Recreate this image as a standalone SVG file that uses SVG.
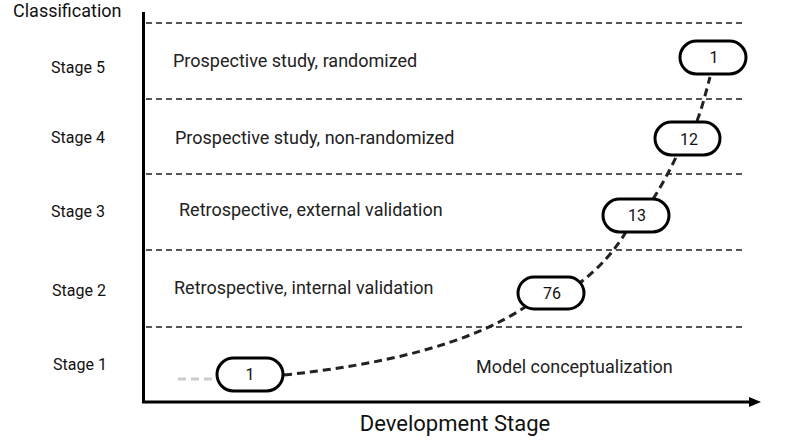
<svg xmlns="http://www.w3.org/2000/svg" width="800" height="444" viewBox="0 0 800 444">
<defs>
<marker id="arr" markerWidth="12" markerHeight="10" refX="1" refY="5" orient="auto" markerUnits="userSpaceOnUse"><path d="M0,0 L12,5 L0,10 Z" fill="#000"/></marker>
<style>
text{font-family:Roboto,"Liberation Sans",sans-serif;fill:#111}
.stage{font-size:16px}
.row{font-size:18px;fill:#222}
.grid{stroke:#555;stroke-width:2;stroke-dasharray:6 4}
.pill{fill:#fff;stroke:#000;stroke-width:3}
.num{font-size:16px;text-anchor:middle}
.link{fill:none;stroke:#222;stroke-width:3;stroke-dasharray:8 5}
</style>
</defs>
<rect width="800" height="444" fill="#fff"/>
<g id="grid">
<line class="grid" x1="146" y1="23" x2="742" y2="23"/>
<line class="grid" x1="146" y1="99" x2="742" y2="99"/>
<line class="grid" x1="146" y1="174" x2="742" y2="174"/>
<line class="grid" x1="146" y1="250" x2="742" y2="250"/>
<line class="grid" x1="146" y1="327" x2="742" y2="327"/>
</g>
<g id="axes">
<line x1="143.5" y1="12" x2="143.5" y2="403" stroke="#000" stroke-width="3"/>
<line x1="142" y1="402" x2="750" y2="402" stroke="#000" stroke-width="3" marker-end="url(#arr)"/>
<text x="13" y="17" font-size="18">Classification</text>
<text x="455" y="431" font-size="22" text-anchor="middle">Development Stage</text>
</g>
<g id="labels">
<text class="stage" x="51" y="73">Stage 5</text>
<text class="stage" x="51" y="143">Stage 4</text>
<text class="stage" x="51" y="217">Stage 3</text>
<text class="stage" x="52" y="296">Stage 2</text>
<text class="stage" x="53" y="370">Stage 1</text>
<text class="row" x="173" y="67">Prospective study, randomized</text>
<text class="row" x="175" y="144">Prospective study, non-randomized</text>
<text class="row" x="179" y="216">Retrospective, external validation</text>
<text class="row" x="174" y="294">Retrospective, internal validation</text>
<text class="row" x="476" y="373">Model conceptualization</text>
</g>
<g id="connectors">
<line x1="178" y1="379" x2="218" y2="379" stroke="#ccc" stroke-width="3" stroke-dasharray="8 5"/>
<path class="link" d="M284,375 C380,365 470,345 528,305"/>
<path class="link" d="M577,285 C600,268 615,250 626,232"/>
<path class="link" d="M653,199 C662,185 670,170 677,155"/>
<path class="link" d="M697,121 C702,108 706,92 710,77"/>
</g>
<g id="n1a"><rect class="pill" x="217" y="358" width="66" height="33" rx="16.5"/><text class="num" x="250" y="380">1</text></g>
<g id="n76"><rect class="pill" x="518" y="277" width="66" height="32" rx="16"/><text class="num" x="552" y="299">76</text></g>
<g id="n13"><rect class="pill" x="603" y="199" width="66" height="33" rx="16.5"/><text class="num" x="637" y="221">13</text></g>
<g id="n12"><rect class="pill" x="655" y="122" width="65" height="33" rx="16.5"/><text class="num" x="689" y="145">12</text></g>
<g id="n1b"><rect class="pill" x="680" y="41" width="66" height="33" rx="16.5"/><text class="num" x="714" y="63">1</text></g>
</svg>
